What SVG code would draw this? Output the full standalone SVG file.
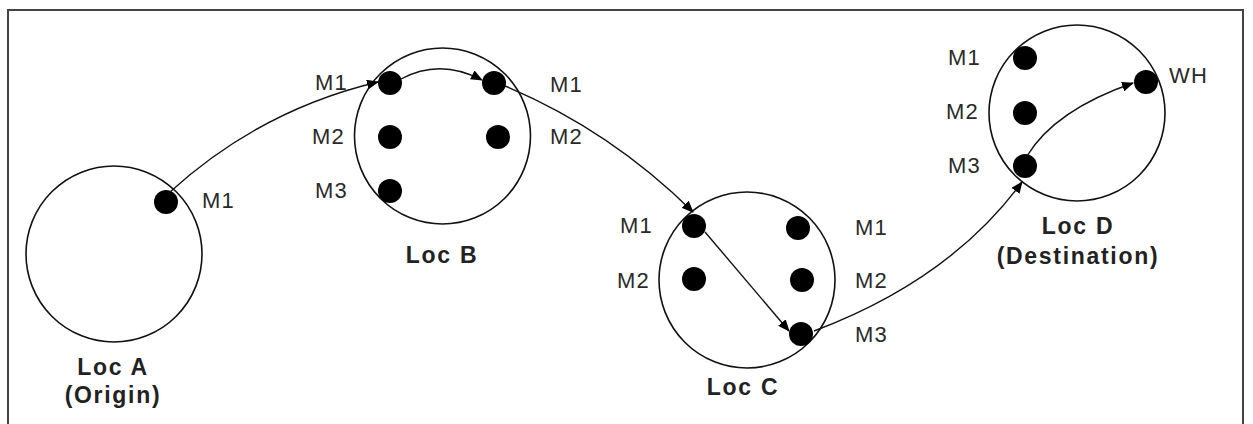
<svg xmlns="http://www.w3.org/2000/svg" width="1253" height="424" viewBox="0 0 1253 424">
<style>
.loc{fill:#fff;stroke:#111;stroke-width:1.6}
.dot{fill:#000}
.lbl{font-family:"Liberation Sans",Arial,sans-serif;font-size:22px;fill:#2a2a2a;letter-spacing:1.2px}
.name{font-family:"Liberation Sans",Arial,sans-serif;font-size:23px;font-weight:bold;fill:#222;letter-spacing:1.7px;text-anchor:middle}
.edge{fill:none;stroke:#111;stroke-width:1.4;marker-end:url(#ah)}
</style>
<defs>
<marker id="ah" viewBox="0 0 12 10" refX="11" refY="5" markerWidth="12" markerHeight="10" markerUnits="userSpaceOnUse" orient="auto">
<path d="M0,0 L12,5 L0,10 z" fill="#000"/>
</marker>
</defs>
<rect x="8" y="10" width="1235" height="430" fill="#fff" stroke="#444" stroke-width="2"/>
<g id="locA">
<circle class="loc" cx="114" cy="254" r="88"/>
<circle class="dot" cx="166" cy="202" r="12"/>
<text class="lbl" x="202" y="208">M1</text>
<text class="name" x="113" y="375">Loc A</text>
<text class="name" x="113" y="403">(Origin)</text>
</g>
<g id="locB">
<circle class="loc" cx="442.5" cy="136" r="88"/>
<circle class="dot" cx="390" cy="83" r="12"/>
<circle class="dot" cx="390" cy="137" r="12"/>
<circle class="dot" cx="390" cy="191" r="12"/>
<circle class="dot" cx="494" cy="83" r="12"/>
<circle class="dot" cx="498" cy="137" r="12"/>
<text class="lbl" x="315" y="90">M1</text>
<text class="lbl" x="312" y="144">M2</text>
<text class="lbl" x="315" y="198">M3</text>
<text class="lbl" x="550" y="92">M1</text>
<text class="lbl" x="550" y="144">M2</text>
<text class="name" x="442" y="263">Loc B</text>
</g>
<g id="locC">
<circle class="loc" cx="747" cy="280" r="88"/>
<circle class="dot" cx="694" cy="226" r="12"/>
<circle class="dot" cx="694" cy="279" r="12"/>
<circle class="dot" cx="798" cy="228" r="12"/>
<circle class="dot" cx="802" cy="280" r="12"/>
<circle class="dot" cx="801" cy="334" r="12"/>
<text class="lbl" x="620" y="233">M1</text>
<text class="lbl" x="617" y="288">M2</text>
<text class="lbl" x="855" y="235">M1</text>
<text class="lbl" x="855" y="288">M2</text>
<text class="lbl" x="855" y="342">M3</text>
<text class="name" x="743" y="395">Loc C</text>
</g>
<g id="locD">
<circle class="loc" cx="1077" cy="113" r="88"/>
<circle class="dot" cx="1025" cy="58" r="12"/>
<circle class="dot" cx="1025" cy="113" r="12"/>
<circle class="dot" cx="1025" cy="166" r="12"/>
<circle class="dot" cx="1146" cy="82" r="12"/>
<text class="lbl" x="948" y="65">M1</text>
<text class="lbl" x="946" y="119">M2</text>
<text class="lbl" x="948" y="173">M3</text>
<text class="lbl" x="1169" y="83">WH</text>
<text class="name" x="1078" y="234">Loc D</text>
<text class="name" x="1078" y="264">(Destination)</text>
</g>
<g id="connectors">
<path class="edge" d="M170,192 Q260,110 378,82"/>
<path class="edge" d="M401,79 Q440,58 482,80"/>
<path class="edge" d="M505,86 Q610,130 693,212"/>
<path class="edge" d="M705,232 L789,331"/>
<path class="edge" d="M814,331 Q950,280 1022,182"/>
<path class="edge" d="M1027,156 Q1055,110 1133,83"/>
</g>
</svg>
